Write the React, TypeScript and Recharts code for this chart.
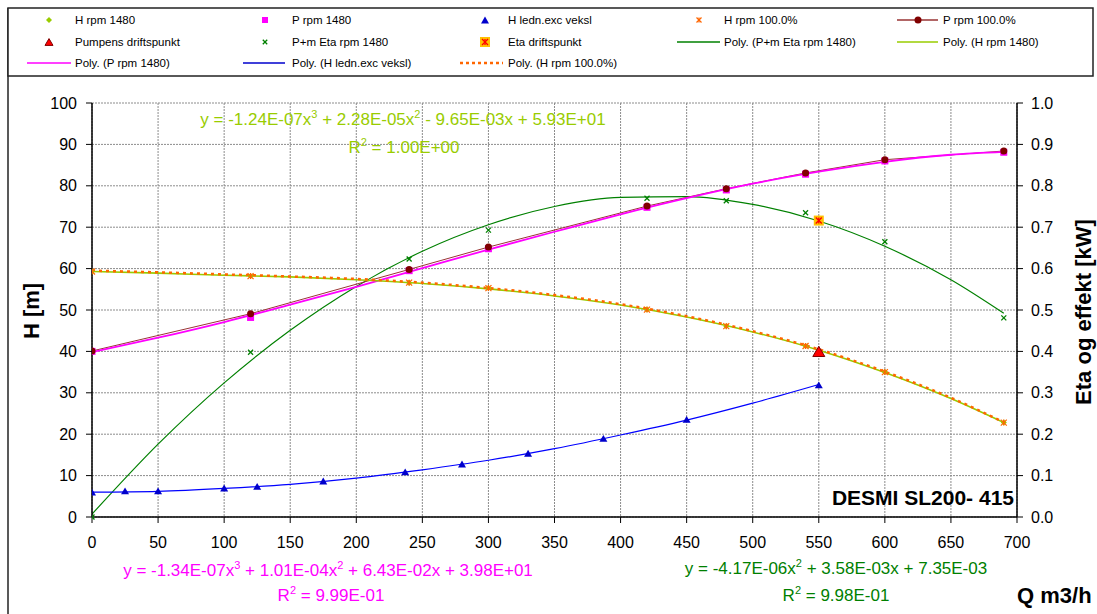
import React from "react";
import { ComposedChart, Line, Scatter, XAxis, YAxis, CartesianGrid } from "recharts";

// measured pump points (Q in m3/h)
const qPump = [0, 120, 240, 300, 420, 480, 540, 600, 690];
const hRpm1480 = [59.3, 58.2, 56.6, 55.3, 50.1, 46.1, 41.3, 35.0, 22.8];
const hRpm100 = [59.3, 58.2, 56.6, 55.3, 50.1, 46.1, 41.3, 35.0, 22.8];
const pRpm1480 = [40.0, 48.2, 59.5, 64.8, 74.8, 79.0, 82.8, 86.0, 88.1];
const pRpm100 = [40.1, 49.1, 59.8, 65.2, 75.1, 79.3, 83.1, 86.3, 88.4];
const etaRpm1480 = [0.0, 0.398, 0.623, 0.693, 0.77, 0.764, 0.735, 0.665, 0.481];

// pipe / heat exchanger curve
const qLedn = [0, 25, 50, 100, 125, 175, 237, 280, 330, 387, 450, 550];
const hLedn = [6.0, 6.3, 6.3, 7.0, 7.4, 8.7, 10.9, 12.8, 15.4, 19.0, 23.6, 31.9];

// trendlines
const qPoly = [0, 50, 100, 150, 200, 250, 300, 350, 400, 450, 500, 550, 600, 650, 690];
const polyH = [59.3, 58.9, 58.4, 58.0, 57.3, 56.4, 55.1, 53.4, 51.2, 48.3, 44.7, 40.3, 34.9, 28.6, 22.8];
const polyH100 = [59.5, 59.1, 58.6, 58.1, 57.5, 56.6, 55.3, 53.6, 51.4, 48.5, 44.9, 40.5, 35.1, 28.8, 22.9];
const polyP = [39.8, 43.3, 47.1, 51.3, 55.6, 60.1, 64.6, 68.9, 73.1, 77.0, 80.5, 83.4, 85.8, 87.5, 88.2];
const polyEta = [0.007, 0.176, 0.324, 0.451, 0.557, 0.642, 0.706, 0.75, 0.772, 0.774, 0.755, 0.715, 0.654, 0.573, 0.492];
const qLednPoly = [0, 50, 100, 150, 200, 250, 300, 350, 400, 450, 500, 550];
const polyLedn = [6.0, 6.2, 6.9, 7.9, 9.4, 11.4, 13.7, 16.5, 19.8, 23.4, 27.5, 32.0];

// operating point
const qDrift = [550];
const hDrift = [40.0];
const etaDrift = [0.716];

const xTicks = [0, 50, 100, 150, 200, 250, 300, 350, 400, 450, 500, 550, 600, 650, 700];
const leftTicks = [0, 10, 20, 30, 40, 50, 60, 70, 80, 90, 100];
const rightTicks = [0, 0.1, 0.2, 0.3, 0.4, 0.5, 0.6, 0.7, 0.8, 0.9, 1.0];

const pts = (xs: number[], ys: number[]) => xs.map((x, i) => ({ x, y: ys[i] }));

const FONT = "'Liberation Sans', Arial, sans-serif";

const C = {
  yellowGreen: "#99cc00",
  magenta: "#ff00ff",
  blue: "#0000cc",
  orange: "#ff6600",
  darkRed: "#800000",
  brownRed: "#993333",
  red: "#ff0000",
  green: "#008000",
  gold: "#ffc000",
};

function diamond(cx: number, cy: number, r: number, color: string) {
  return <path d={`M${cx},${cy - r}L${cx + r},${cy}L${cx},${cy + r}L${cx - r},${cy}Z`} fill={color} />;
}
function square(cx: number, cy: number, s: number, color: string) {
  return <rect x={cx - s / 2} y={cy - s / 2} width={s} height={s} fill={color} />;
}
function triangle(cx: number, cy: number, w: number, color: string, stroke?: string) {
  const h = w * 0.85;
  return (
    <path
      d={`M${cx},${cy - h / 2}L${cx + w / 2},${cy + h / 2}L${cx - w / 2},${cy + h / 2}Z`}
      fill={color}
      stroke={stroke || "none"}
      strokeWidth={1}
    />
  );
}
function cross(cx: number, cy: number, r: number, color: string, w = 1.3) {
  return (
    <g stroke={color} strokeWidth={w}>
      <line x1={cx - r} y1={cy - r} x2={cx + r} y2={cy + r} />
      <line x1={cx - r} y1={cy + r} x2={cx + r} y2={cy - r} />
    </g>
  );
}
function star(cx: number, cy: number, r: number, color: string, w = 1.2) {
  return (
    <g stroke={color} strokeWidth={w}>
      <line x1={cx - r} y1={cy - r} x2={cx + r} y2={cy + r} />
      <line x1={cx - r} y1={cy + r} x2={cx + r} y2={cy - r} />
      <line x1={cx} y1={cy - r} x2={cx} y2={cy + r} />
    </g>
  );
}
function etaDriftMark(cx: number, cy: number) {
  return (
    <g>
      {square(cx, cy, 10, C.gold)}
      {star(cx, cy, 3, C.red, 1.3)}
    </g>
  );
}

const shapeDiamond = (p: any) => diamond(p.cx, p.cy, 3, C.yellowGreen);
const shapeStarOrange = (p: any) => star(p.cx, p.cy, 3, C.orange);
const shapeSquare = (p: any) => square(p.cx, p.cy, 7, C.magenta);
const shapeCircle = (p: any) => <circle cx={p.cx} cy={p.cy} r={3.5} fill={C.darkRed} />;
const shapeTriBlue = (p: any) => triangle(p.cx, p.cy, 8, C.blue);
const shapeCross = (p: any) => cross(p.cx, p.cy, 2.5, C.green);
const shapeTriRed = (p: any) => triangle(p.cx, p.cy, 12, C.red, C.darkRed);
const shapeEtaDrift = (p: any) => etaDriftMark(p.cx, p.cy);

function Eq({ x, y, color, parts }: { x: number; y: number; color: string; parts: (string | number)[] }) {
  // strings are normal text, numbers are superscript exponents
  return (
    <text x={x} y={y} textAnchor="middle" fill={color} fontSize={17} fontFamily={FONT}>
      {parts.map((p, i) =>
        typeof p === "number" ? (
          <tspan key={i} dy={-7} fontSize={11}>
            {p}
          </tspan>
        ) : (
          <tspan key={i} dy={i > 0 && typeof parts[i - 1] === "number" ? 7 : 0}>
            {p}
          </tspan>
        )
      )}
    </text>
  );
}

const legendCols = [
  { m: 49, t: 75, l1: 27, l2: 71 },
  { m: 265, t: 292, l1: 243, l2: 285 },
  { m: 485, t: 508, l1: 460, l2: 503 },
  { m: 699, t: 724, l1: 677, l2: 720 },
  { m: 918, t: 943, l1: 897, l2: 938 },
];
const legendRows = [20, 42, 63];

function LegendBox() {
  const lt = (col: number, row: number, label: string) => (
    <text x={legendCols[col].t} y={legendRows[row] + 4} fontSize={11.5} fontFamily={FONT} fill="#000">
      {label}
    </text>
  );
  const ln = (col: number, row: number, color: string, dash?: string, w = 1.3) => (
    <line
      x1={legendCols[col].l1}
      x2={legendCols[col].l2}
      y1={legendRows[row]}
      y2={legendRows[row]}
      stroke={color}
      strokeWidth={w}
      strokeDasharray={dash}
    />
  );
  const m = (col: number) => legendCols[col].m;
  return (
    <g>
      <rect x={8} y={8} width={1085} height={68} fill="#fff" stroke="#222" strokeWidth={1.5} />
      {diamond(m(0), legendRows[0], 3, C.yellowGreen)}
      {lt(0, 0, "H rpm 1480")}
      {square(m(1), legendRows[0], 6, C.magenta)}
      {lt(1, 0, "P rpm 1480")}
      {triangle(m(2), legendRows[0], 8, C.blue)}
      {lt(2, 0, "H ledn.exc veksl")}
      {star(m(3), legendRows[0], 2.5, C.orange)}
      {lt(3, 0, "H rpm 100.0%")}
      {ln(4, 0, C.brownRed, undefined, 1.5)}
      <circle cx={m(4)} cy={legendRows[0]} r={3.5} fill={C.darkRed} />
      {lt(4, 0, "P rpm 100.0%")}

      {triangle(m(0), legendRows[1], 8, C.red, C.darkRed)}
      {lt(0, 1, "Pumpens driftspunkt")}
      {cross(m(1), legendRows[1], 2.2, C.green)}
      {lt(1, 1, "P+m Eta rpm 1480")}
      {etaDriftMark(m(2), legendRows[1])}
      {lt(2, 1, "Eta driftspunkt")}
      {ln(3, 1, C.green)}
      {lt(3, 1, "Poly. (P+m Eta rpm 1480)")}
      {ln(4, 1, C.yellowGreen)}
      {lt(4, 1, "Poly. (H rpm 1480)")}

      {ln(0, 2, C.magenta)}
      {lt(0, 2, "Poly. (P rpm 1480)")}
      {ln(1, 2, C.blue)}
      {lt(1, 2, "Poly. (H ledn.exc veksl)")}
      {ln(2, 2, C.orange, "3 3", 2.5)}
      {lt(2, 2, "Poly. (H rpm 100.0%)")}
    </g>
  );
}

export default function App() {
  const tickStyle = { fill: "#000", fontSize: 16, fontFamily: FONT };
  return (
    <div style={{ position: "absolute", left: 0, top: 0, width: 1097, height: 614, background: "#fff", overflow: "hidden" }}>
      <ComposedChart width={1097} height={614} margin={{ top: 103, right: 0, bottom: 0, left: 0 }}>
        <CartesianGrid
          yAxisId="left"
          stroke="#8c8c8c"
          strokeDasharray="2 1"
          horizontalValues={leftTicks}
          verticalValues={xTicks}
        />
        <XAxis
          type="number"
          dataKey="x"
          domain={[0, 700]}
          ticks={xTicks}
          height={97}
          tick={tickStyle}
          tickSize={6}
          tickMargin={14}
          axisLine={{ stroke: "#000", strokeWidth: 1.5 }}
          tickLine={{ stroke: "#000" }}
          allowDataOverflow
        />
        <YAxis
          yAxisId="left"
          dataKey="y"
          type="number"
          domain={[0, 100]}
          ticks={leftTicks}
          width={92}
          tick={tickStyle}
          tickSize={6}
          tickMargin={9}
          axisLine={{ stroke: "#000", strokeWidth: 1.5 }}
          tickLine={{ stroke: "#000" }}
        />
        <YAxis
          yAxisId="right"
          orientation="right"
          dataKey="y"
          type="number"
          domain={[0, 1]}
          ticks={rightTicks}
          width={80}
          tick={tickStyle}
          tickSize={6}
          tickMargin={8}
          tickFormatter={(v: number) => v.toFixed(1)}
          axisLine={{ stroke: "#000", strokeWidth: 1.5 }}
          tickLine={{ stroke: "#000" }}
        />

        <Line yAxisId="right" data={pts(qPoly, polyEta)} dataKey="y" type="monotone" stroke={C.green} strokeWidth={1.2} dot={false} activeDot={false} isAnimationActive={false} />
        <Line yAxisId="left" data={pts(qLednPoly, polyLedn)} dataKey="y" type="monotone" stroke="#0000ff" strokeWidth={1.2} dot={false} activeDot={false} isAnimationActive={false} />
        <Line yAxisId="left" data={pts(qPump, pRpm100)} dataKey="y" type="linear" stroke={C.brownRed} strokeWidth={1} dot={false} activeDot={false} isAnimationActive={false} />
        <Line yAxisId="left" data={pts(qPoly, polyP)} dataKey="y" type="monotone" stroke={C.magenta} strokeWidth={1.8} dot={false} activeDot={false} isAnimationActive={false} />
        <Line yAxisId="left" data={pts(qPoly, polyH)} dataKey="y" type="monotone" stroke={C.yellowGreen} strokeWidth={1.6} dot={false} activeDot={false} isAnimationActive={false} />
        <Line yAxisId="left" data={pts(qPoly, polyH100)} dataKey="y" type="monotone" stroke={C.orange} strokeWidth={2.5} strokeDasharray="3 4" dot={false} activeDot={false} isAnimationActive={false} />

        <Scatter yAxisId="left" data={pts(qPump, hRpm1480)} dataKey="y" shape={shapeDiamond} isAnimationActive={false} />
        <Scatter yAxisId="left" data={pts(qPump, hRpm100)} dataKey="y" shape={shapeStarOrange} isAnimationActive={false} />
        <Scatter yAxisId="left" data={pts(qPump, pRpm1480)} dataKey="y" shape={shapeSquare} isAnimationActive={false} />
        <Scatter yAxisId="left" data={pts(qPump, pRpm100)} dataKey="y" shape={shapeCircle} isAnimationActive={false} />
        <Scatter yAxisId="left" data={pts(qLedn, hLedn)} dataKey="y" shape={shapeTriBlue} isAnimationActive={false} />
        <Scatter yAxisId="right" data={pts(qPump, etaRpm1480)} dataKey="y" shape={shapeCross} isAnimationActive={false} />
        <Scatter yAxisId="left" data={pts(qDrift, hDrift)} dataKey="y" shape={shapeTriRed} isAnimationActive={false} />
        <Scatter yAxisId="right" data={pts(qDrift, etaDrift)} dataKey="y" shape={shapeEtaDrift} isAnimationActive={false} />
      </ComposedChart>

      <svg width={1097} height={614} style={{ position: "absolute", left: 0, top: 0, pointerEvents: "none" }}>
        <line x1={8} y1={8} x2={8} y2={614} stroke="#222" strokeWidth={1.5} />
        <LegendBox />

        <Eq x={403} y={125} color={C.yellowGreen} parts={["y = -1.24E-07x", 3, " + 2.28E-05x", 2, " - 9.65E-03x + 5.93E+01"]} />
        <Eq x={404} y={153} color={C.yellowGreen} parts={["R", 2, " = 1.00E+00"]} />
        <Eq x={328} y={576} color={C.magenta} parts={["y = -1.34E-07x", 3, " + 1.01E-04x", 2, " + 6.43E-02x + 3.98E+01"]} />
        <Eq x={331} y={601} color={C.magenta} parts={["R", 2, " = 9.99E-01"]} />
        <Eq x={836} y={574} color={C.green} parts={["y = -4.17E-06x", 2, " + 3.58E-03x + 7.35E-03"]} />
        <Eq x={836} y={601} color={C.green} parts={["R", 2, " = 9.98E-01"]} />

        <text x={1014} y={505} textAnchor="end" fontSize={21} fontWeight="bold" fontFamily={FONT} fill="#000">
          DESMI SL200- 415
        </text>
        <text x={1017} y={603} fontSize={22} fontWeight="bold" fontFamily={FONT} fill="#000">
          Q m3/h
        </text>
        <text x={0} y={0} transform="translate(39,311) rotate(-90)" textAnchor="middle" fontSize={22} fontWeight="bold" fontFamily={FONT} fill="#000">
          H [m]
        </text>
        <text x={0} y={0} transform="translate(1091,312) rotate(-90)" textAnchor="middle" fontSize={22} fontWeight="bold" fontFamily={FONT} fill="#000">
          Eta og effekt [kW]
        </text>
      </svg>
    </div>
  );
}
